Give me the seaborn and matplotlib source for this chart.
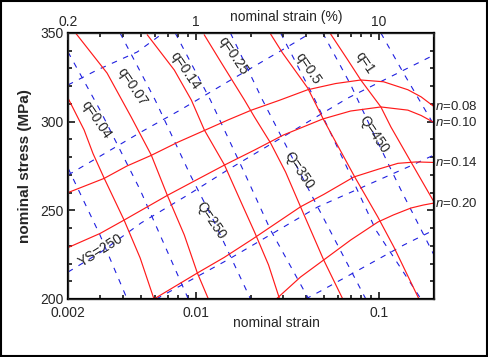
import pandas as pd
import matplotlib
matplotlib.use("Agg")
import matplotlib.pyplot as plt
import seaborn as sns
from matplotlib.ticker import LogLocator, MultipleLocator, NullFormatter

# red solid curves of constant n (nominal strain, nominal stress in MPa)
n_labels = ["0.08", "0.10", "0.14", "0.20"]
n008_strain = [0.002, 0.00315, 0.0042, 0.0057, 0.008, 0.0111, 0.015, 0.0201, 0.0285, 0.0408, 0.058, 0.0796, 0.106, 0.144, 0.17, 0.2]
n008_stress = [260, 268, 275, 281, 288.5, 295, 301, 306.5, 312, 318, 321.5, 323.5, 322.5, 318, 314, 308.5]
n010_strain = [0.002, 0.003, 0.00405, 0.007, 0.01, 0.0143, 0.0209, 0.0301, 0.0493, 0.07, 0.1025, 0.144, 0.17, 0.2]
n010_stress = [229, 237, 244.5, 258.5, 267, 275.5, 284, 292.5, 301.5, 306, 308.3, 306.5, 303.5, 299.5]
n014_strain = [0.0059, 0.0102, 0.0143, 0.0204, 0.0373, 0.05, 0.0729, 0.1, 0.127, 0.16, 0.2]
n014_stress = [200, 214.7, 223.5, 233.8, 252, 259, 268.8, 273.3, 276.5, 277.3, 277]
n020_strain = [0.0275, 0.0373, 0.0499, 0.0702, 0.0987, 0.12, 0.1496, 0.175, 0.2]
n020_stress = [200, 212.4, 222, 233.3, 243.4, 247.4, 251.3, 253, 254.1]

# red solid lines of constant q
q_labels = ["0.04", "0.07", "0.14", "0.25", "0.5", "1"]
q004_strain = [0.002, 0.00245, 0.00274, 0.00315, 0.00405, 0.00496, 0.0059]
q004_stress = [313.3, 295.3, 282, 268.2, 244.5, 223.1, 200]
q007_strain = [0.0022, 0.00327, 0.00443, 0.0057, 0.00697, 0.00864, 0.01018, 0.0117]
q007_stress = [350, 327.4, 302.6, 281.2, 258.6, 236.1, 214.7, 200]
q014_strain = [0.00542, 0.00762, 0.00944, 0.01112, 0.01432, 0.01774, 0.0209, 0.02494, 0.02866]
q014_stress = [349, 329.1, 312.2, 295.3, 275.6, 254.1, 237.8, 219.2, 200]
q025_strain = [0.0111, 0.01379, 0.01842, 0.0209, 0.02558, 0.0309, 0.03734, 0.04992, 0.06344]
q025_stress = [349, 333.1, 312.2, 302.6, 288, 271.6, 251.9, 222, 200]
q05_strain = [0.0256, 0.02976, 0.0408, 0.04992, 0.0738, 0.0987, 0.1207, 0.1655]
q05_stress = [349.4, 338.7, 319, 301, 268.8, 246.2, 229.3, 200]
q1_strain = [0.0545, 0.0676, 0.0796, 0.1025, 0.1163, 0.1496, 0.2]
q1_stress = [349.4, 334.8, 323.5, 308.3, 297, 277.3, 254.7]

# blue dashed lines of constant YS (shallow)
ys350_strain = [0.002, 0.00288, 0.00478, 0.00663]
ys350_stress = [320.7, 329.1, 339.3, 350]
ys300_strain = [0.002, 0.00288, 0.00502, 0.00822, 0.01487, 0.0329, 0.04236]
ys300_stress = [269.9, 279.5, 294.2, 306.6, 322.4, 343.2, 350]
ys250_strain = [0.002, 0.00303, 0.00502, 0.00921, 0.01487, 0.0676, 0.2]
ys250_stress = [215.2, 226.5, 242.9, 259.2, 272.7, 313.3, 337.6]
ys200_strain = [0.00607, 0.01487, 0.04628, 0.144, 0.2]
ys200_stress = [200, 222, 251.9, 274.4, 281.2]
ys150_strain = [0.03978, 0.04806, 0.137, 0.2]
ys150_stress = [200, 204.5, 230.5, 238.9]

# blue dashed lines of constant Q (steep)
Q150_strain = [0.002, 0.00299, 0.00421]
Q150_stress = [273.9, 236.1, 200]
Q200_strain = [0.002, 0.00299, 0.00496, 0.00909]
Q200_stress = [339.3, 306.6, 261.5, 200]
Q250_strain = [0.00385, 0.00599, 0.00932, 0.01246, 0.01988]
Q250_stress = [350, 312.2, 269.9, 244.5, 200]
Q300_strain = [0.00771, 0.012, 0.01866, 0.02558, 0.04132]
Q300_stress = [350, 312.2, 269.9, 238.9, 200]
Q350_strain = [0.01544, 0.02312, 0.03642, 0.04628, 0.0848]
Q350_stress = [350, 312.2, 272.7, 251.9, 200]
Q400_strain = [0.02902, 0.04346, 0.0659, 0.09622, 0.1698]
Q400_stress = [350, 315, 275.6, 238.9, 200]
Q450_strain = [0.0493, 0.0702, 0.09383, 0.1319, 0.2]
Q450_stress = [350, 320.7, 293, 261.5, 224.8]
Q500_strain = [0.1025, 0.1352, 0.2]
Q500_stress = [350, 328, 298.1]


def to_frame(curves):
    rows = []
    for name, (xs, ys) in curves.items():
        rows += [(name, x, y) for x, y in zip(xs, ys)]
    return pd.DataFrame(rows, columns=["name", "strain", "stress"])


red_df = to_frame({
    "n0.08": (n008_strain, n008_stress), "n0.10": (n010_strain, n010_stress),
    "n0.14": (n014_strain, n014_stress), "n0.20": (n020_strain, n020_stress),
    "q0.04": (q004_strain, q004_stress), "q0.07": (q007_strain, q007_stress),
    "q0.14": (q014_strain, q014_stress), "q0.25": (q025_strain, q025_stress),
    "q0.5": (q05_strain, q05_stress), "q1": (q1_strain, q1_stress),
})
blue_df = to_frame({
    "YS350": (ys350_strain, ys350_stress), "YS300": (ys300_strain, ys300_stress),
    "YS250": (ys250_strain, ys250_stress), "YS200": (ys200_strain, ys200_stress),
    "YS150": (ys150_strain, ys150_stress),
    "Q150": (Q150_strain, Q150_stress), "Q200": (Q200_strain, Q200_stress),
    "Q250": (Q250_strain, Q250_stress), "Q300": (Q300_strain, Q300_stress),
    "Q350": (Q350_strain, Q350_stress), "Q400": (Q400_strain, Q400_stress),
    "Q450": (Q450_strain, Q450_stress), "Q500": (Q500_strain, Q500_stress),
})

sns.set_style("ticks")
plt.rcParams["font.family"] = ["Liberation Sans", "DejaVu Sans"]
plt.rcParams["mathtext.fontset"] = "custom"
plt.rcParams["mathtext.it"] = "Liberation Sans:italic"
plt.rcParams["mathtext.rm"] = "Liberation Sans"

fig = plt.figure(figsize=(4.88, 3.57), dpi=100)
ax = fig.add_axes([68 / 488, 58 / 357, 366 / 488, 266 / 357])
ax.set_xscale("log")

sns.lineplot(data=blue_df, x="strain", y="stress", units="name", estimator=None,
             sort=False, color="#1f1fe0", lw=0.8, linestyle=(0, (5, 6)), ax=ax, legend=False)
sns.lineplot(data=red_df, x="strain", y="stress", units="name", estimator=None,
             sort=False, color="#ff1a1a", lw=0.85, ax=ax, legend=False)

ax.set_xlim(0.002, 0.2)
ax.set_ylim(200, 350)
ax.set_xlabel("")
ax.set_ylabel("nominal stress (MPa)", fontsize=11, fontweight="bold", labelpad=6)

ax.set_xticks([0.002, 0.01, 0.1])
ax.set_xticklabels(["0.002", "0.01", "0.1"])
ax.xaxis.set_minor_locator(LogLocator(base=10, subs=range(2, 10)))
ax.xaxis.set_minor_formatter(NullFormatter())
ax.set_yticks([200, 250, 300, 350])
ax.yaxis.set_minor_locator(MultipleLocator(10))
ax.tick_params(which="both", direction="in", right=True, labelsize=10, width=1.3)
ax.tick_params(axis="x", pad=5)
ax.tick_params(axis="y", pad=3)
ax.tick_params(which="major", length=5)
ax.tick_params(which="minor", length=3)
for s in ax.spines.values():
    s.set_linewidth(1.6)
    s.set_color("black")

top = ax.twiny()
top.set_xscale("log")
top.set_xlim(0.2, 20)
top.set_xticks([0.2, 1, 10])
top.set_xticklabels(["0.2", "1", "10"])
top.xaxis.set_minor_locator(LogLocator(base=10, subs=range(2, 10)))
top.xaxis.set_minor_formatter(NullFormatter())
top.tick_params(which="both", direction="in", labelsize=10, width=1.3, pad=3)
top.tick_params(which="major", length=5)
top.tick_params(which="minor", length=3)

ax.text(0.57, -0.09, "nominal strain", transform=ax.transAxes, ha="center", va="center", fontsize=10)
top.text(0.595, 1.06, "nominal strain (%)", transform=ax.transAxes, ha="center", va="center", fontsize=10)

# n labels at the right end of each curve
for lab, xs, ys in zip(n_labels, [n008_strain, n010_strain, n014_strain, n020_strain],
                       [n008_stress, n010_stress, n014_stress, n020_stress]):
    ax.annotate(r"$n$=" + lab, (xs[-1], ys[-1]), xytext=(1, 0), textcoords="offset points",
                ha="left", va="center", fontsize=9.5, annotation_clip=False)

q_pos = [(0.00285, 301), (0.00446, 319.7), (0.00878, 328.6), (0.0159, 337), (0.0408, 329.8), (0.0838, 333.1)]
for lab, (x, y) in zip(q_labels, q_pos):
    ax.text(x, y, "q=" + lab, rotation=-56, ha="center", va="center", fontsize=10)

for lab, (x, y) in zip(["250", "350", "450"], [(0.0121, 244.5), (0.0366, 272.7), (0.0942, 293)]):
    ax.text(x, y, "Q=" + lab, rotation=-56, ha="center", va="center", fontsize=10)
ax.text(0.00303, 227.5, "YS=250", rotation=32, ha="center", va="center", fontsize=10)

fig.add_artist(plt.Rectangle((0.002, 0.003), 0.995, 0.994, transform=fig.transFigure,
                             fill=False, lw=1.5, ec="black"))
fig.savefig("out.png", dpi=100)
